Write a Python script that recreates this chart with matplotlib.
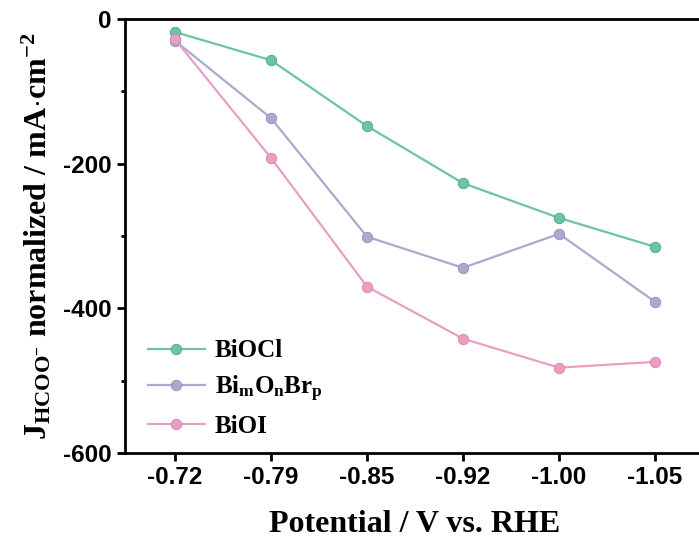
import matplotlib
matplotlib.use('Agg')
import matplotlib.pyplot as plt
from matplotlib.ticker import MultipleLocator

plt.rcParams['mathtext.fontset'] = 'custom'
plt.rcParams['mathtext.rm'] = 'Liberation Serif:bold'
plt.rcParams['mathtext.it'] = 'Liberation Serif:bold'
plt.rcParams['mathtext.bf'] = 'Liberation Serif:bold'
plt.rcParams['axes.unicode_minus'] = False

# data
potentials = ['-0.72', '-0.79', '-0.85', '-0.92', '-1.00', '-1.05']
biocl = [-18, -57, -148, -227, -275, -315]
bimonbrp = [-30, -137, -301, -344, -297, -391]
bioi = [-28, -192, -370, -442, -482, -474]

names = ['BiOCl', r'Bi$_\mathrm{m}$O$_\mathrm{n}$Br$_\mathrm{p}$', 'BiOI']
colors = ['#6cc4a2', '#a8abcc', '#e99fc4']
edges = ['#4aa886', '#8a90b8', '#d684b0']

fig = plt.figure(figsize=(6.99, 5.42), dpi=100)
ax = fig.add_axes([125 / 699, 89 / 542, 580 / 699, 434 / 542])

x = list(range(len(potentials)))
for vals, name, c, e in zip([biocl, bimonbrp, bioi], names, colors, edges):
    ax.plot(x, vals, color=c, lw=1.6, marker='o', ms=7.5, mfc=c, mec=e, mew=0.6, label=name)

ax.set_xlim(-0.52, 5.52)
ax.set_ylim(-600, 0)
ax.set_xticks(x)
ax.set_xticklabels(potentials)
ax.yaxis.set_major_locator(MultipleLocator(200))
ax.yaxis.set_minor_locator(MultipleLocator(100))

for s in ax.spines.values():
    s.set_linewidth(2)
ax.spines['right'].set_visible(False)

ax.tick_params(axis='both', which='major', direction='out', length=6, width=2)
ax.tick_params(axis='y', which='minor', direction='out', length=3, width=2)
for lab in ax.get_xticklabels() + ax.get_yticklabels():
    lab.set_fontfamily('Liberation Sans')
    lab.set_fontweight('bold')
    lab.set_fontsize(17.5)

ax.set_xlabel('Potential / V vs. RHE', fontfamily='Liberation Serif', fontweight='bold',
              fontsize=23, labelpad=15)
ax.set_ylabel(r'$\mathrm{J_{HCOO^{-}}}$ normalized / mA$\cdot$cm$^{-2}$', fontfamily='Liberation Serif',
              fontweight='bold', fontsize=23, labelpad=7)

leg = ax.legend(loc='lower left', bbox_to_anchor=(0.0, -0.017), frameon=False,
                prop={'family': 'Liberation Serif', 'weight': 'bold', 'size': 18},
                handlelength=2.3, handletextpad=0.4, labelspacing=0.45)

fig.savefig('out.png', dpi=100)
